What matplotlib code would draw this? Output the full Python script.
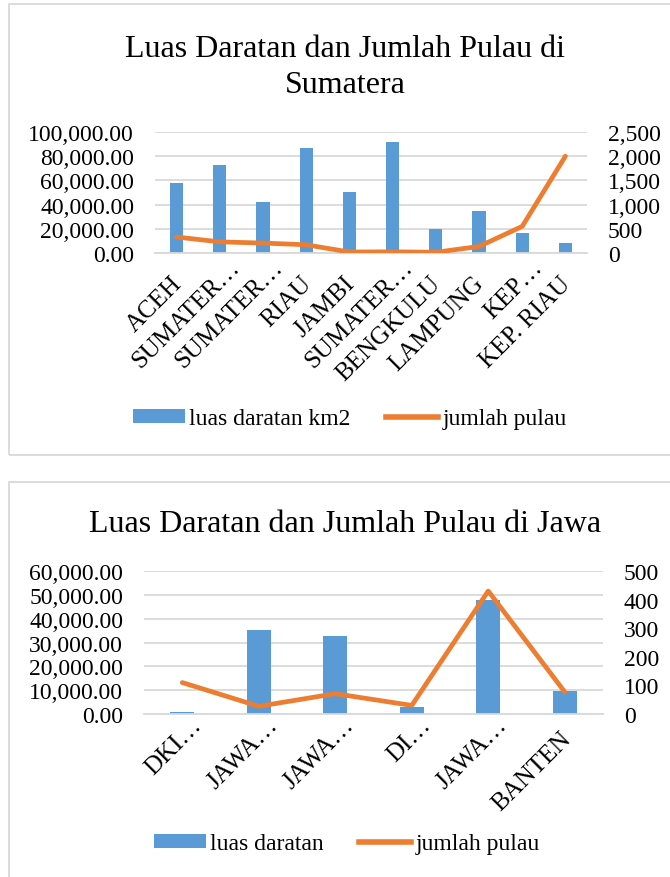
import matplotlib
matplotlib.use("Agg")
import matplotlib.pyplot as plt
from matplotlib.patches import Rectangle, Patch
from matplotlib.lines import Line2D
from matplotlib.ticker import FuncFormatter, MultipleLocator
from matplotlib.transforms import ScaledTranslation
import numpy as np

plt.rcParams['font.family'] = ['Liberation Serif', 'DejaVu Serif']

# ---------------- data ----------------
sum_categories = ["ACEH", "SUMATER…", "SUMATER…", "RIAU", "JAMBI", "SUMATER…",
                  "BENGKULU", "LAMPUNG", "KEP…", "KEP. RIAU"]
sum_luas = [57956, 72981, 42012, 87023, 50058, 91592, 19919, 34624, 16424, 8202]
sum_pulau = [330, 230, 205, 170, 20, 25, 15, 135, 550, 2000]

jawa_categories = ["DKI…", "JAWA…", "JAWA…", "DI…", "JAWA…", "BANTEN"]
jawa_luas = [660, 35380, 32800, 3130, 47800, 9660]
jawa_pulau = [110, 27, 71, 30, 430, 77]

sum_title = ["Luas Daratan dan Jumlah Pulau di", "Sumatera"]
jawa_title = ["Luas Daratan dan Jumlah Pulau di Jawa"]
sum_bar_label = "luas daratan km2"
jawa_bar_label = "luas daratan"
line_label = "jumlah pulau"

# ---------------- style ----------------
W, H = 670, 878
BLUE = "#5B9BD5"
ORANGE = "#ED7D31"
GRID = "#D9D9D9"
TXT = "#000000"
FS = 17
XFS = 18
TFS = 23

fig = plt.figure(figsize=(W / 100, H / 100), dpi=100)
fig.patch.set_facecolor("white")


def rect(x0, x1, y0, y1):
    return [x0 / W, 1 - y1 / H, (x1 - x0) / W, (y1 - y0) / H]


def fx(x):
    return x / W


def fy(y):
    return 1 - y / H


# border boxes
fig.add_artist(Rectangle((fx(9), fy(456)), fx(700) - fx(9), fy(5) - fy(456),
                         transform=fig.transFigure, fill=False,
                         edgecolor=GRID, lw=1.3))
fig.add_artist(Rectangle((fx(9), fy(900)), fx(700) - fx(9), fy(483) - fy(900),
                         transform=fig.transFigure, fill=False,
                         edgecolor=GRID, lw=1.3))


def draw(axrect, cats, luas, pulau, ymax, ystep, y2max, y2step, title_lines,
         title_y, bar_label, legend_center, full_off, trunc_off):
    ax = fig.add_axes(axrect)
    x = np.arange(len(cats))
    ax.bar(x, luas, width=0.31, color=BLUE, zorder=2)
    ax.set_xlim(-0.5, len(cats) - 0.5)
    ax.set_ylim(0, ymax)
    ax.yaxis.set_major_locator(MultipleLocator(ystep))
    ax.yaxis.set_major_formatter(FuncFormatter(lambda v, p: f"{v:,.2f}"))
    ax.grid(axis="y", color=GRID, lw=1.3, zorder=0)
    ax.set_axisbelow(True)
    for s in ["top", "right", "left"]:
        ax.spines[s].set_visible(False)
    ax.spines["bottom"].set_color(GRID)
    ax.spines["bottom"].set_linewidth(1.3)
    ax.tick_params(axis="both", length=0, labelsize=FS, colors=TXT)
    ax.tick_params(axis="y", pad=15)
    ax.set_xticks(x)
    ax.set_xticklabels(cats, rotation=45, ha="right", va="baseline",
                       rotation_mode="anchor", fontsize=XFS)
    ax.tick_params(axis="x", pad=0)
    for lab in ax.get_xticklabels():
        dx, dy = trunc_off if lab.get_text().endswith("…") else full_off
        off = ScaledTranslation(dx / 100, -dy / 100, fig.dpi_scale_trans)
        lab.set_transform(lab.get_transform() + off)

    ax2 = ax.twinx()
    ax2.plot(x, pulau, color=ORANGE, lw=3.4, solid_capstyle="round",
             solid_joinstyle="round", zorder=3)
    ax2.set_ylim(0, y2max)
    ax2.yaxis.set_major_locator(MultipleLocator(y2step))
    ax2.yaxis.set_major_formatter(FuncFormatter(lambda v, p: f"{v:,.0f}"))
    for s in ["top", "right", "left", "bottom"]:
        ax2.spines[s].set_visible(False)
    ax2.tick_params(axis="y", length=0, labelsize=FS, colors=TXT, pad=15)

    for txt, ty in zip(title_lines, title_y):
        fig.text(fx(345), fy(ty), txt, ha="center", va="baseline",
                 fontsize=TFS, color=TXT)

    handles = [Patch(facecolor=BLUE, edgecolor="none", label=bar_label),
               Line2D([0], [0], color=ORANGE, lw=4, label=line_label)]
    fig.legend(handles=handles, loc="center",
               bbox_to_anchor=(fx(legend_center[0]), fy(legend_center[1])),
               ncol=2, frameon=False, fontsize=FS, handlelength=2.2,
               handleheight=0.55, handletextpad=0.2, columnspacing=1.5,
               borderpad=0)
    return ax, ax2


draw(rect(155, 587, 133, 254), sum_categories, sum_luas, sum_pulau,
     100000, 20000, 2500, 500, sum_title, [57, 93],
     sum_bar_label, (350, 420), (6, 31), (21, 15))

draw(rect(144, 603, 572, 715), jawa_categories, jawa_luas, jawa_pulau,
     60000, 10000, 500, 100, jawa_title, [532],
     jawa_bar_label, (347, 845), (7, 25), (20, 12))

fig.savefig("out.png", dpi=100, facecolor="white")
